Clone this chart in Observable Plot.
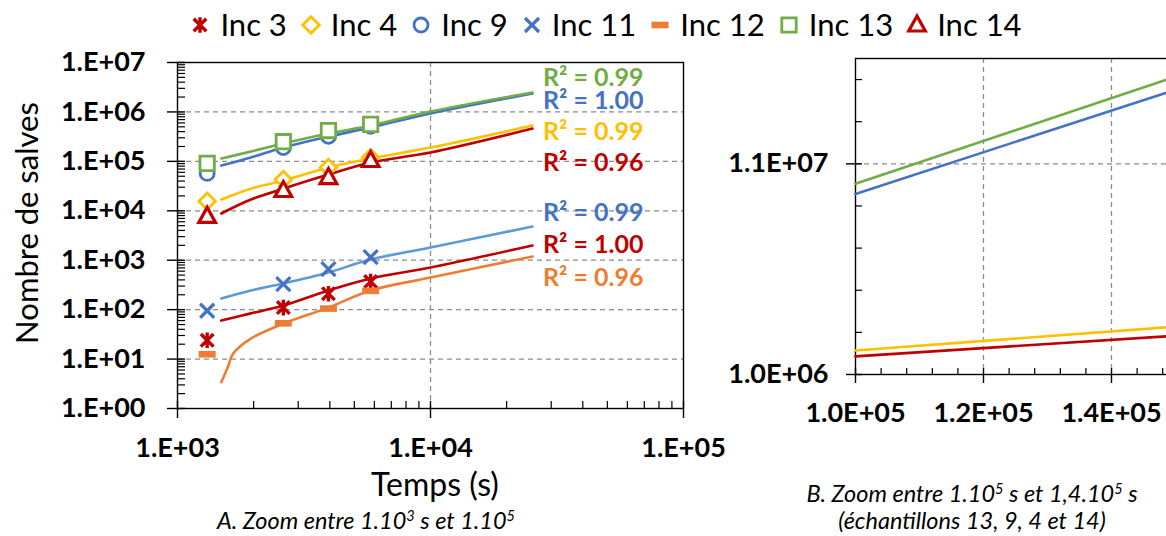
<!DOCTYPE html>
<html><head><meta charset="utf-8">
<script src="https://cdn.jsdelivr.net/npm/d3@7"></script>
<script src="https://cdn.jsdelivr.net/npm/@observablehq/plot@0.6"></script>
<style>
html,body{margin:0;padding:0;background:#fff;overflow:hidden;}
#wrap{position:relative;width:1166px;height:536px;overflow:hidden;font-family:Lato, sans-serif;color:#000;background:#fff}
.abs{position:absolute;white-space:nowrap;line-height:1.1;transform:translate(-50%,-50%)}
.abs sup{font-size:0.62em;vertical-align:0.55em;line-height:0}
#legend{position:absolute;left:0;top:9px;width:1212px;display:flex;justify-content:center;align-items:center;font-size:31px;line-height:1}
#legend .it{display:flex;align-items:center;margin:0 7px}
#legend svg{margin-right:10px;overflow:visible}
svg.plot{position:absolute}
</style></head><body><div id="wrap"><div id="legend"></div></div>
<script>
// ---------------- DATA ----------------
const seriesNames = ["Inc 3", "Inc 4", "Inc 9", "Inc 11", "Inc 12", "Inc 13", "Inc 14"];
const times = [1310, 2620, 3950, 5800];
const inc3  = [24, 110, 210, 370];
const inc4  = [15600, 43000, 75000, 120000];
const inc9  = [57000, 190000, 320000, 510000];
const inc11 = [95, 330, 660, 1150];
const inc12 = [12.5, 53, 105, 240];
const inc13 = [91000, 250000, 420000, 560000];
const inc14 = [7700, 25700, 47000, 104000];

// trend lines
const trendTimes = [1490, 1950, 2620, 3950, 5800, 10000, 25300];
const trend3  = [60, 84, 121, 244, 427, 713, 1986];
const trend4  = [16900, 28000, 41000, 75000, 114000, 190000, 530000];
const trend9  = [82000, 120000, 190000, 318000, 484000, 930000, 2360000];
const trend11 = [168, 244, 338, 565, 1035, 1808, 4810];
const trend12Times = [1490, 1580, 1660, 1950, 2620, 3950, 5800, 10000, 25300];
const trend12 = [3.4, 6.8, 13, 26, 52, 110, 244, 447, 1189];
const trend13 = [114000, 158000, 230000, 366000, 530000, 1020000, 2470000];
const trend14 = [8800, 16900, 28000, 54000, 95000, 151000, 460000];

// R² labels (order top to bottom) : series 13, 9, 4, 14, 11, 3, 12
const r2Text = ["R² = 0.99", "R² = 1.00", "R² = 0.99", "R² = 0.96", "R² = 0.99", "R² = 1.00", "R² = 0.96"];
const r2Series = ["Inc 13", "Inc 9", "Inc 4", "Inc 14", "Inc 11", "Inc 3", "Inc 12"];
const r2Value = [4.97e6, 1.7e6, 3.84e5, 9.06e4, 9.2e3, 1.99e3, 427];
const r2Time = 44000;

// zoom panel B
const zoomTimes = [100000, 150000];
const zoom13 = [10050000, 15140000];
const zoom9  = [9570000, 14520000];
const zoom4  = [2140000, 3270000];
const zoom14 = [1860000, 2840000];

// tick labels
const xTicksA = [1e3, 1e4, 1e5];
const yTicksA = [1e0, 1e1, 1e2, 1e3, 1e4, 1e5, 1e6, 1e7];
const xTicksB = [1.0e5, 1.2e5, 1.4e5];
const yTicksB = [1.0e6, 1.1e7];

const captionA = "A. Zoom entre 1.10<sup>3</sup> s et 1.10<sup>5</sup>";
const captionB1 = "B. Zoom entre 1.10<sup>5</sup> s et 1,4.10<sup>5</sup> s";
const captionB2 = "(échantillons 13, 9, 4 et 14)";
const xTitle = "Temps (s)";
const yTitle = "Nombre de salves";

// ---------------- STYLE ----------------
const C = {red: "#C00000", yellow: "#FFC000", blue: "#4472C4", lblue: "#5B9BD5", orange: "#ED7D31", green: "#70AD47"};
const SYM = {
  star: {draw(c){const r=6.3; c.moveTo(-r,-r);c.lineTo(r,r);c.moveTo(-r,r);c.lineTo(r,-r);c.moveTo(0,-r-1.5);c.lineTo(0,r+1.5);}},
  diamond: {draw(c){const r=8.3; c.moveTo(0,-r);c.lineTo(r,0);c.lineTo(0,r);c.lineTo(-r,0);c.closePath();}},
  circle: {draw(c){const r=7; c.moveTo(r,0); c.arc(0,0,r,0,2*Math.PI); c.closePath();}},
  times: {draw(c){const r=7; c.moveTo(-r,-r);c.lineTo(r,r);c.moveTo(-r,r);c.lineTo(r,-r);}},
  dash: {draw(c){c.moveTo(-8.5,-3.3);c.lineTo(8.5,-3.3);c.lineTo(8.5,3.3);c.lineTo(-8.5,3.3);c.closePath();}},
  square: {draw(c){const r=7.2; c.moveTo(-r,-r);c.lineTo(r,-r);c.lineTo(r,r);c.lineTo(-r,r);c.closePath();}},
  triangle: {draw(c){c.moveTo(0,-9);c.lineTo(8.3,6);c.lineTo(-8.3,6);c.closePath();}}
};
const styleOf = {
  "Inc 3":  {sym: SYM.star, fill: "none", stroke: C.red, sw: 3.4, line: C.red, label: C.red},
  "Inc 4":  {sym: SYM.diamond, fill: "white", stroke: C.yellow, sw: 2.8, line: C.yellow, label: C.yellow},
  "Inc 9":  {sym: SYM.circle, fill: "white", stroke: C.blue, sw: 2.8, line: C.blue, label: C.blue},
  "Inc 11": {sym: SYM.times, fill: "none", stroke: C.blue, sw: 3.2, line: C.lblue, label: C.blue},
  "Inc 12": {sym: SYM.dash, fill: C.orange, stroke: "none", sw: 0, line: C.orange, label: C.orange},
  "Inc 13": {sym: SYM.square, fill: "white", stroke: C.green, sw: 2.8, line: C.green, label: C.green},
  "Inc 14": {sym: SYM.triangle, fill: "white", stroke: C.red, sw: 3.2, line: C.red, label: C.red}
};

const values = {"Inc 3": inc3, "Inc 4": inc4, "Inc 9": inc9, "Inc 11": inc11, "Inc 12": inc12, "Inc 13": inc13, "Inc 14": inc14};
const trends = {
  "Inc 3": [trendTimes, trend3], "Inc 4": [trendTimes, trend4], "Inc 9": [trendTimes, trend9],
  "Inc 11": [trendTimes, trend11], "Inc 12": [trend12Times, trend12], "Inc 13": [trendTimes, trend13], "Inc 14": [trendTimes, trend14]
};
const zooms = {"Inc 13": zoom13, "Inc 9": zoom9, "Inc 4": zoom4, "Inc 14": zoom14};

const pad2 = e => (e < 0 ? "-" : "+") + String(Math.abs(e)).padStart(2, "0");
const fmtA = d => "1.E" + pad2(Math.round(Math.log10(d)));
const fmtB = d => { const e = Math.floor(Math.log10(d) + 1e-9); return (d / 10 ** e).toFixed(1) + "E" + pad2(e); };

function minorLog(lo, hi) {
  const out = [];
  for (let e = lo; e < hi; e++) for (let m = 2; m <= 9; m++) out.push(m * 10 ** e);
  return out;
}
function minorLin(a, b, step, majors) {
  const out = [];
  for (let v = a; v <= b + 1e-6; v += step) if (!majors.some(m => Math.abs(m - v) < step / 10)) out.push(v);
  return out;
}

const grid = {stroke: "#8c8c8c", strokeOpacity: 1, strokeWidth: 1.3, strokeDasharray: "5,4"};
const tickFont = {fontSize: 27, fontWeight: "bold", label: null};

// ---------------- PANEL A ----------------
const rowsA = seriesNames.flatMap(s => times.map((t, i) => ({s, t, v: values[s][i]})));
const marksA = [
  Plot.gridY({ticks: [1e1, 1e2, 1e3, 1e4, 1e5, 1e6], ...grid}),
  Plot.gridX({ticks: [1e4], ...grid}),
  Plot.frame({stroke: "#000", strokeWidth: 1.4}),
  Plot.axisY({ticks: minorLog(0, 7), tickSize: 8, dx: 8, tickFormat: () => "", label: null, strokeWidth: 1.2}),
  Plot.axisY({ticks: yTicksA, tickSize: 18, dx: 8, tickFormat: () => "", label: null, strokeWidth: 1.4}),
  Plot.axisY({ticks: yTicksA, tickSize: 0, tickPadding: 32, tickFormat: fmtA, ...tickFont}),
  Plot.axisX({ticks: minorLog(3, 5), tickSize: 7, dy: -7, tickFormat: () => "", label: null, strokeWidth: 1.2}),
  Plot.axisX({ticks: xTicksA, tickSize: 17, dy: -7, tickFormat: () => "", label: null, strokeWidth: 1.4}),
  Plot.axisX({ticks: xTicksA, tickSize: 0, tickPadding: 29, tickFormat: fmtA, ...tickFont})
];
for (const s of seriesNames) {
  const [tx, ty] = trends[s];
  marksA.push(Plot.line(tx.map((t, i) => ({t, v: ty[i]})), {x: "t", y: "v", stroke: styleOf[s].line, strokeWidth: 2.6, curve: "catmull-rom"}));
}
for (const s of seriesNames) {
  const st = styleOf[s];
  marksA.push(Plot.dot(rowsA.filter(d => d.s === s), {x: "t", y: "v", symbol: st.sym, r: 6, fill: st.fill, stroke: st.stroke, strokeWidth: st.sw}));
}
marksA.push(Plot.text(r2Text.map((txt, i) => ({txt, v: r2Value[i], c: styleOf[r2Series[i]].label})), {
  x: () => r2Time, y: "v", text: "txt", fill: d => d.c, fontSize: 25, fontWeight: "bold"
}));

const plotA = Plot.plot({
  width: 740, height: 440,
  marginLeft: 177, marginRight: 57, marginTop: 22, marginBottom: 72,
  x: {type: "log", domain: [1e3, 1e5]},
  y: {type: "log", domain: [1, 1e7]},
  color: {type: "identity"},
  style: {fontFamily: "Lato, sans-serif", color: "#000", background: "transparent", overflow: "visible"},
  marks: marksA
});
plotA.classList.add("plot");
plotA.style.left = "0px"; plotA.style.top = "40px";

// ---------------- PANEL B ----------------
const marksB = [
  Plot.gridY({ticks: [1.1e7], ...grid}),
  Plot.gridX({ticks: [1.2e5, 1.4e5], ...grid}),
  Plot.frame({stroke: "#000", strokeWidth: 1.4}),
  Plot.axisY({ticks: minorLin(1e6, 1.6e7, 2e6, yTicksB), tickSize: 7, dx: 7, tickFormat: () => "", label: null, strokeWidth: 1.2}),
  Plot.axisY({ticks: yTicksB, tickSize: 16, dx: 7, tickFormat: () => "", label: null, strokeWidth: 1.4}),
  Plot.axisY({ticks: yTicksB, tickSize: 0, tickPadding: 27, tickFormat: fmtB, ...tickFont}),
  Plot.axisX({ticks: minorLin(1e5, 1.5e5, 4000, [1e5, 1.2e5, 1.4e5]), tickSize: 6, dy: -6, tickFormat: () => "", label: null, strokeWidth: 1.2}),
  Plot.axisX({ticks: xTicksB, tickSize: 15, dy: -6, tickFormat: () => "", label: null, strokeWidth: 1.4}),
  Plot.axisX({ticks: xTicksB, tickSize: 0, tickPadding: 28, tickFormat: fmtB, ...tickFont})
];
for (const s of ["Inc 4", "Inc 14", "Inc 9", "Inc 13"]) {
  marksB.push(Plot.line(zoomTimes.map((t, i) => ({t, v: zooms[s][i]})), {x: "t", y: "v", stroke: styleOf[s].line, strokeWidth: 2.6}));
}
const plotB = Plot.plot({
  width: 475, height: 400,
  marginLeft: 155, marginRight: 0, marginTop: 18, marginBottom: 66,
  x: {domain: [1e5, 1.5e5]},
  y: {domain: [1e6, 1.6e7]},
  style: {fontFamily: "Lato, sans-serif", color: "#000", background: "transparent", overflow: "visible"},
  marks: marksB
});
plotB.classList.add("plot");
plotB.style.left = "700px"; plotB.style.top = "40px";

const wrap = document.getElementById("wrap");
wrap.appendChild(plotA);
wrap.appendChild(plotB);

// ---------------- TEXTS ----------------
function addText(html, x, y, css) {
  const d = document.createElement("div");
  d.className = "abs"; d.innerHTML = html;
  d.style.left = x + "px"; d.style.top = y + "px";
  Object.assign(d.style, css || {});
  wrap.appendChild(d);
  return d;
}
addText(xTitle, 435, 484, {fontSize: "32px"});
addText(yTitle, 26, 223, {fontSize: "31px", transform: "translate(-50%,-50%) rotate(-90deg)"});
addText(captionA, 366, 521, {fontSize: "23.5px", fontStyle: "italic"});
addText(captionB1, 972, 494, {fontSize: "23.5px", fontStyle: "italic"});
addText(captionB2, 972, 521, {fontSize: "23.5px", fontStyle: "italic"});

// ---------------- LEGEND ----------------
const legend = document.getElementById("legend");
for (const s of seriesNames) {
  const st = styleOf[s];
  const p = d3.path(); st.sym.draw(p);
  const it = document.createElement("div"); it.className = "it";
  it.innerHTML = `<svg width="20" height="20" viewBox="-10 -10 20 20"><path d="${p}" fill="${st.fill}" stroke="${st.stroke}" stroke-width="${st.sw}"/></svg><span>${s}</span>`;
  legend.appendChild(it);
}
</script></body></html>
